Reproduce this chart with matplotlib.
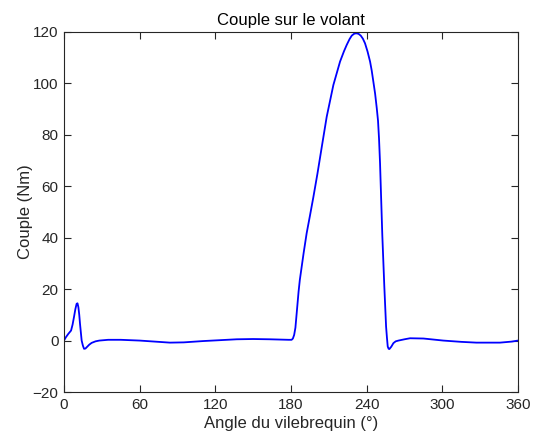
import matplotlib
matplotlib.use("Agg")
import matplotlib.pyplot as plt

angle = [0, 1.5, 3.4, 5.6, 6.8, 7.9, 9, 10, 10.7, 11.4, 12.1, 12.7, 13.4, 14, 15, 15.9, 17, 18, 20,
         21.9, 25, 28, 35, 45, 60, 84, 95, 110, 137, 150, 163, 178, 180.5, 181.5, 182.5, 183.5,
         184.5, 186, 187, 190, 192.4, 195, 197.7, 201, 204.3, 208.3, 213.6, 218.9, 222,
         224.2, 226.5, 228.2, 230, 231.6, 233.5, 235.3, 237, 238.7, 240.7, 242.7, 244,
         245.3, 246.7, 248, 249, 249.8, 250.6, 251.5, 252.4, 254, 255.4, 256.1, 256.7, 257.4, 258,
         259.5, 261.2, 263, 265.2, 270, 274.4, 285, 300.8, 315, 327, 345.7, 355, 360]
couple = [0, 1.3, 2.6, 3.9, 6.2, 9.1, 12.2, 14.3, 14.5, 13, 10, 6.5, 3, 0, -2, -3.2, -3.1, -2.6, -1.6,
          -0.9, -0.3, 0, 0.3, 0.3, 0, -0.8, -0.7, -0.2, 0.5, 0.6, 0.5, 0.3, 0.3, 0.8, 2.2, 5,
          10.6, 19, 23.6, 34, 41.7, 48.5, 55.7, 65, 75, 87, 99.4, 108.5, 112.5,
          115, 117.3, 118.6, 119.3, 119.5, 119.3, 118.6, 117.4, 115.6, 112.4, 108.5, 105,
          100.7, 96, 90.4, 85.5, 78.5, 69, 55, 41, 21, 5.4, 1, -2.3, -3.2, -3.3,
          -2.4, -1, -0.3, 0, 0.5, 0.9, 0.8, 0, -0.5, -0.8, -0.8, -0.4, 0]

xticks = [0, 60, 120, 180, 240, 300, 360]
yticks = [-20, 0, 20, 40, 60, 80, 100, 120]

plt.rcParams['font.family'] = ['Liberation Sans', 'DejaVu Sans']
fig = plt.figure(figsize=(5.33, 4.4), dpi=100)
ax = fig.add_axes([64/533, 48/440, 454/533, 360/440])
ax.plot(angle, couple, color='#0000ff', lw=1.3)
ax.set_xlim(0, 360)
ax.set_ylim(-20, 120)
ax.set_xticks(xticks)
ax.set_yticks(yticks)
ax.tick_params(direction='in', length=5, top=True, right=True, labelsize=11,
               colors='#262626', width=0.8, pad=4)
for s in ax.spines.values():
    s.set_color('#262626')
    s.set_linewidth(0.8)
ax.set_xlabel('Angle du vilebrequin (°)', fontsize=12, color='#262626', labelpad=3)
ax.set_ylabel('Couple (Nm)', fontsize=12, color='#262626', labelpad=0)
ax.set_title('Couple sur le volant', fontsize=12, color='black', pad=5)
fig.savefig('out.png', dpi=100)
